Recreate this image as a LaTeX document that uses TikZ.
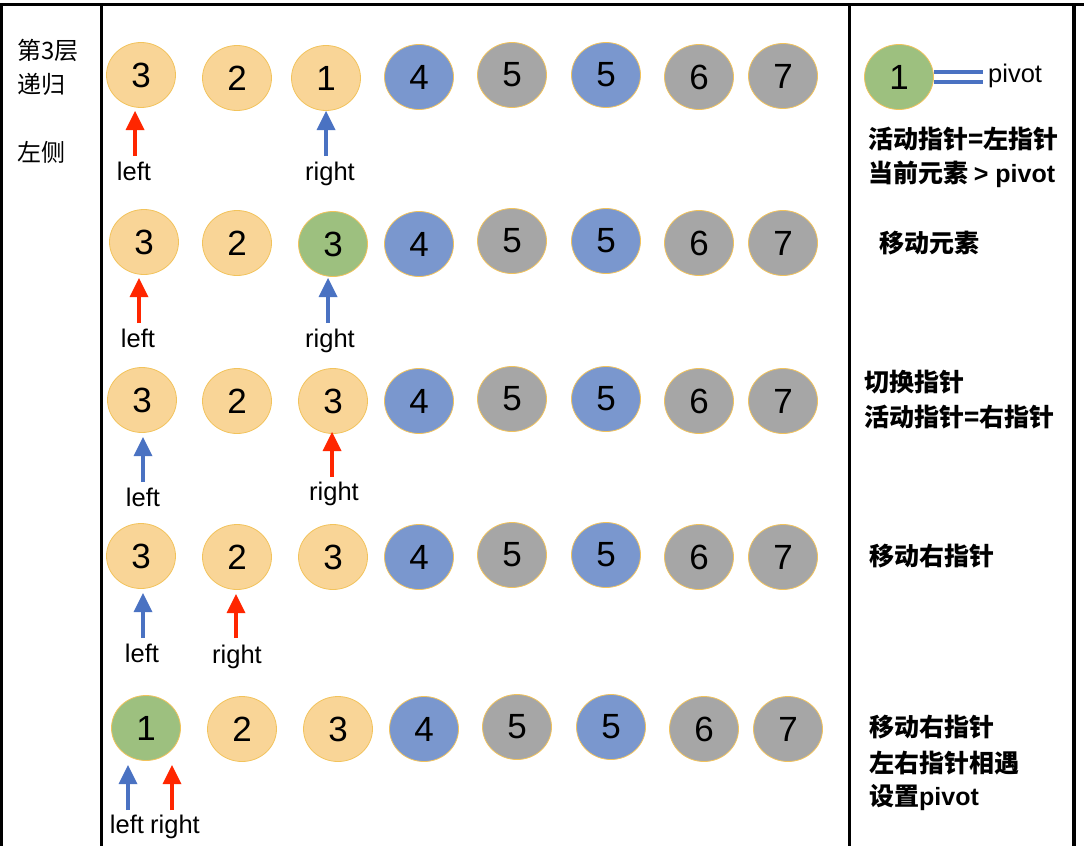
\documentclass[tikz,border=0pt]{standalone}
\usepackage{fontspec}
\setmainfont{Liberation Sans}
\newfontfamily\cjk{Noto Sans CJK SC}
\usetikzlibrary{shapes.geometric,arrows.meta}
\definecolor{orng}{HTML}{F9D597}
\definecolor{grn}{HTML}{9DC07F}
\definecolor{blu}{HTML}{7A97CE}
\definecolor{gry}{HTML}{A6A6A6}
\definecolor{rim}{HTML}{F2C35B}
\definecolor{arrred}{HTML}{FF2600}
\definecolor{arrblu}{HTML}{4A72C2}
\begin{document}
\begin{tikzpicture}[x=1pt,y=-1pt,
  ball/.style={ellipse, draw=rim, line width=0.8pt, minimum width=69pt, minimum height=65pt, inner sep=0pt, font=\fontsize{35}{35}\selectfont},
  ob/.style={ball, fill=orng},
  gb/.style={ball, fill=grn},
  bb/.style={ball, fill=blu},
  yb/.style={ball, fill=gry},
  redarr/.style={draw=arrred, line width=4.6pt, shorten >=17pt},
  bluarr/.style={draw=arrblu, line width=4.6pt, shorten >=17pt},
  lab/.style={font=\fontsize{25.5}{25.5}\selectfont, anchor=base, inner sep=0pt},
  note/.style={font={\cjk\bfseries\fontsize{25}{30}\selectfont}, anchor=west, inner sep=0pt},
  side/.style={font={\cjk\fontsize{24}{30}\selectfont}, anchor=west, inner sep=0pt},
  tbl/.style={line width=3.2pt, black}
]
\useasboundingbox (0,0) rectangle (1084,846);
% table lines
\draw[tbl] (0,4.3) -- (1084,4.3);
\draw[tbl] (1.7,4) -- (1.7,846);
\draw[tbl] (101.5,4) -- (101.5,846);
\draw[tbl] (849.5,4) -- (849.5,846);
\draw[tbl] (1074,4) -- (1074,846);

% left column
\node[side] (t1) at (17,50) {第3层};
\node[side] (t2) at (17,84) {递归};
\node[side] (t3) at (17,152) {左侧};

% row 1
\foreach \x/\y/\n/\s [count=\i] in {141/75/3/ob, 237/78/2/ob, 326/78/1/ob, 419/77/4/bb, 512/75/5/yb, 606/75/5/bb, 699/77/6/yb, 783/76/7/yb}
  \node[\s] (ra\i) at (\x,\y) {\n};
% row 2
\foreach \x/\y/\n/\s [count=\i] in {144/242/3/ob, 237/243/2/ob, 333/244/3/gb, 419/244/4/bb, 512/241/5/yb, 606/241/5/bb, 699/243/6/yb, 783/243/7/yb}
  \node[\s] (rb\i) at (\x,\y) {\n};
% row 3
\foreach \x/\y/\n/\s [count=\i] in {142/400/3/ob, 237/401/2/ob, 333/401/3/ob, 419/401/4/bb, 512/399/5/yb, 606/399/5/bb, 699/401/6/yb, 783/401/7/yb}
  \node[\s] (rc\i) at (\x,\y) {\n};
% row 4
\foreach \x/\y/\n/\s [count=\i] in {141/556/3/ob, 237/557/2/ob, 333/557/3/ob, 419/557/4/bb, 512/555/5/yb, 606/555/5/bb, 699/557/6/yb, 783/557/7/yb}
  \node[\s] (rd\i) at (\x,\y) {\n};
% row 5
\foreach \x/\y/\n/\s [count=\i] in {146/728/1/gb, 242/729/2/ob, 338/729/3/ob, 424/729/4/bb, 517/727/5/yb, 611/727/5/bb, 704/729/6/yb, 788/729/7/yb}
  \node[\s] (re\i) at (\x,\y) {\n};

% arrows: named tip / tail coordinates
\coordinate (a1lt) at (135,111); \coordinate (a1lb) at (135,156);
\coordinate (a1rt) at (326,111); \coordinate (a1rb) at (326,156);
\coordinate (a2lt) at (139,278); \coordinate (a2lb) at (139,323);
\coordinate (a2rt) at (328,278); \coordinate (a2rb) at (328,323);
\coordinate (a3lt) at (143,437); \coordinate (a3lb) at (143,482);
\coordinate (a3rt) at (332,432); \coordinate (a3rb) at (332,477);
\coordinate (a4lt) at (143,593); \coordinate (a4lb) at (143,638);
\coordinate (a4rt) at (236,594); \coordinate (a4rb) at (236,638);
\coordinate (a5lt) at (128,765); \coordinate (a5lb) at (128,810);
\coordinate (a5rt) at (172,765); \coordinate (a5rb) at (172,810);

\foreach \a in {a1l,a2l,a3r,a4r,a5r}{
  \draw[redarr] (\a b) -- (\a t);
  \fill[arrred] (\a t) -- ++(-9.5,19) -- ++(19,0) -- cycle;
}
\foreach \a in {a1r,a2r,a3l,a4l,a5l}{
  \draw[bluarr] (\a b) -- (\a t);
  \fill[arrblu] (\a t) -- ++(-9.5,19) -- ++(19,0) -- cycle;
}

\node[lab] (l1) at (134,180) {left};
\node[lab] (r1) at (330,180) {right};
\node[lab] (l2) at (138,347) {left};
\node[lab] (r2) at (330,347) {right};
\node[lab] (l3) at (143,506) {left};
\node[lab] (r3) at (334,500) {right};
\node[lab] (l4) at (142,662) {left};
\node[lab] (r4) at (237,663) {right};
\node[lab] (l5) at (127,833) {left};
\node[lab] (r5) at (175,833) {right};

% legend
\node[gb] (pv) at (899,77) {1};
\node[font=\fontsize{25.5}{25.5}\selectfont, anchor=base west, inner sep=0pt] (pvt) at (988,82) {pivot};
\draw[arrblu, line width=4pt, double=white, double distance=6pt] (pv.east) -- ([xshift=-5pt]pvt.west |- pv.east);

% notes
\node[note] (n1) at (868,139) {活动指针=左指针};
\node[note] (n2) at (868,174) {当前元素 {\fontspec{Liberation Sans}\bfseries > pivot}};
\node[note] (n3) at (879,243) {移动元素};
\node[note] (n4) at (864,382) {切换指针};
\node[note] (n5) at (864,417) {活动指针=右指针};
\node[note] (n6) at (869,556) {移动右指针};
\node[note] (n7) at (869,727) {移动右指针};
\node[note] (n8) at (869,763) {左右指针相遇};
\node[note] (n9) at (869,798) {设置{\fontspec{Liberation Sans}\bfseries pivot}};
\end{tikzpicture}
\end{document}
